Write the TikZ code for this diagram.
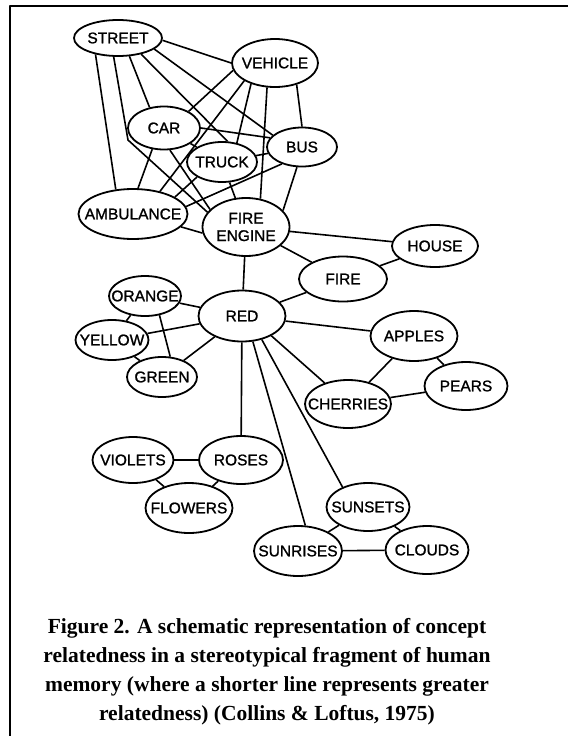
\documentclass[tikz,border=0pt]{standalone}
\usepackage{fontspec}
\setmainfont{Liberation Serif}
\newfontfamily\lblfont[FakeBold=1.2]{Liberation Sans}
\usetikzlibrary{shapes.geometric,backgrounds}

\tikzset{
  concept/.style 2 args={ellipse, draw, fill=white, line width=1.8pt,
    minimum width=#1, minimum height=#2, inner sep=0pt},
  link/.style={line width=1.6pt},
  every label/.style={inner sep=0pt, align=center,
    font=\lblfont\fontsize{15.5}{17.5}\selectfont},
}

\begin{document}
\begin{tikzpicture}[x=1pt, y=-1pt, line cap=round, line join=round]

  %% ════ frame ════
  \draw[line width=2.6pt, line cap=butt] (10,736) -- (10,6) -- (568,6);

  %% ════ concepts (ellipses) ════
  \node[concept={88}{36}, label=center:STREET]     (street)    at (118,38)  {};
  \node[concept={86}{48}, label=center:VEHICLE]    (vehicle)   at (275,63)  {};
  \node[concept={72}{43}, label=center:CAR]        (car)       at (164,128) {};
  \node[concept={70}{39}, label=center:BUS]        (bus)       at (302,147) {};
  \node[concept={70}{40}, label=center:TRUCK]      (truck)     at (222,162) {};
  \node[concept={109}{50}, label=center:AMBULANCE] (ambulance) at (133,214) {};
  \node[concept={87}{58}, label={center:FIRE\\ENGINE}] (engine) at (246,227) {};
  \node[concept={86}{42}, label=center:HOUSE]      (house)     at (435,246) {};
  \node[concept={88}{45}, label=center:FIRE]       (fire)      at (343,279) {};
  \node[concept={72}{40}, label=center:ORANGE]     (orange)    at (145,296) {};
  \node[concept={87}{51}, label=center:RED]        (red)       at (242,316) {};
  \node[concept={73}{40}, label=center:YELLOW]     (yellow)    at (112,340) {};
  \node[concept={70}{40}, label=center:GREEN]      (green)     at (162,377) {};
  \node[concept={87}{50}, label=center:APPLES]     (apples)    at (414,336) {};
  \node[concept={83}{48}, label=center:PEARS]      (pears)     at (466,386) {};
  \node[concept={86}{48}, label=center:CHERRIES]   (cherries)  at (348,404) {};
  \node[concept={81}{46}, label=center:VIOLETS]    (violets)   at (133,460) {};
  \node[concept={84}{48}, label=center:ROSES]      (roses)     at (241,460) {};
  \node[concept={87}{50}, label=center:FLOWERS]    (flowers)   at (189,508) {};
  \node[concept={83}{48}, label=center:SUNSETS]    (sunsets)   at (368,507) {};
  \node[concept={88}{50}, label=center:SUNRISES]   (sunrises)  at (298,551) {};
  \node[concept={83}{48}, label=center:CLOUDS]     (clouds)    at (427,550) {};

  % bend of the street -- fire engine line (goes round CAR)
  \coordinate (kink) at (128,140);

  %% ════ links (behind the ellipses) ════
  \begin{pgfonlayer}{background}
  \fill[white] (0,0) rectangle (568,736);
  % street
  \draw[link] (street.-3) -- (vehicle.180);
  \draw[link] (street.-58) -- (car.125);
  \draw[link] (street.-35) -- (truck.75);
  \draw[link] (street.-17) -- (bus.158);
  \draw[link] (street.216) -- (ambulance.125);
  \draw[link] (street.257) -- (kink) -- (engine.159);
  % vehicle
  \draw[link] (vehicle.190) -- (car.34);
  \draw[link] (vehicle.221) -- (truck.52);
  \draw[link] (vehicle.-45) -- (bus.90);
  \draw[link] (vehicle.210) -- (ambulance.40);
  \draw[link] (vehicle.252) -- (engine.63);
  % car, truck, bus, ambulance
  \draw[link] (car) -- (truck);
  \draw[link] (car.0) -- (bus.164);
  \draw[link] (car.241) -- (ambulance.79);
  \draw[link] (car.285) -- (engine.154);
  \draw[link] (truck) -- (bus);
  \draw[link] (truck.211) -- (ambulance.22);
  \draw[link] (truck) -- (engine);
  \draw[link] (bus.220) -- (ambulance.8);
  \draw[link] (bus.256) -- (engine.24);
  \draw[link] (ambulance.-15) -- (engine.188);
  % fire engine, fire, house
  \draw[link] (engine) -- (house);
  \draw[link] (engine) -- (fire);
  \draw[link] (engine) -- (red);
  \draw[link] (fire) -- (house);
  \draw[link] (fire) -- (red);
  % colours
  \draw[link] (red) -- (orange);
  \draw[link] (red) -- (yellow);
  \draw[link] (red) -- (green);
  \draw[link] (orange) -- (yellow);
  \draw[link] (orange.307) -- (green.68);
  \draw[link] (yellow) -- (green);
  % fruit
  \draw[link] (red) -- (apples);
  \draw[link] (red.326) -- (cherries.138);
  \draw[link] (apples) -- (cherries);
  \draw[link] (apples) -- (pears);
  \draw[link] (cherries) -- (pears);
  % flowers, sky
  \draw[link] (red) -- (roses);
  \draw[link] (red.293) -- (sunrises.74);
  \draw[link] (red.310) -- (sunsets.142);
  \draw[link] (violets) -- (roses);
  \draw[link] (violets) -- (flowers);
  \draw[link] (roses) -- (flowers);
  \draw[link] (sunsets) -- (sunrises);
  \draw[link] (sunsets) -- (clouds);
  \draw[link] (sunrises) -- (clouds);
  \end{pgfonlayer}

  %% ════ caption ════
  \node[align=center, inner sep=0pt, font=\bfseries\fontsize{21.5}{29}\selectfont]
    (caption) at (267,672)
    {Figure 2. A schematic representation of concept\\
     relatedness in a stereotypical fragment of human\\
     memory (where a shorter line represents greater\\
     relatedness) (Collins \& Loftus, 1975)};

  \pgfresetboundingbox
  \path[use as bounding box] (0,0) rectangle (568,736);
\end{tikzpicture}
\end{document}
